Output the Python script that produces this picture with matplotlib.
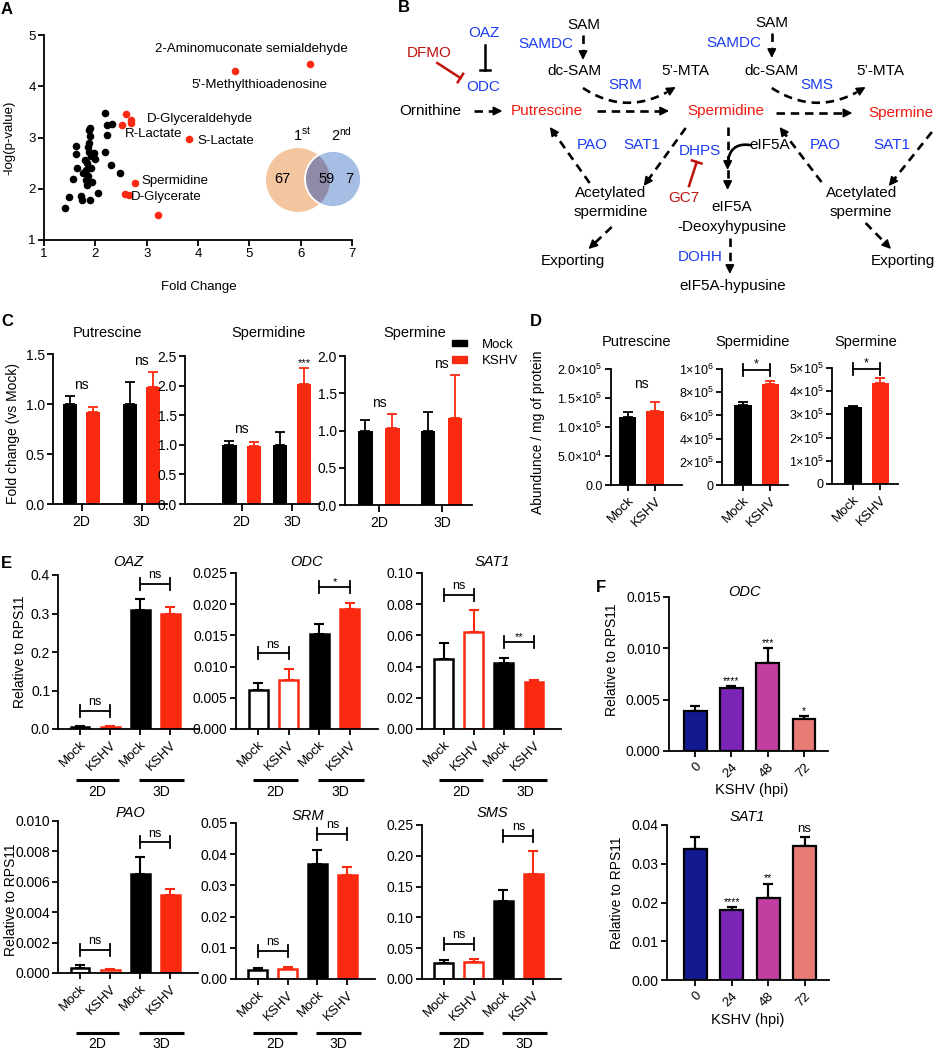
import numpy as np
import matplotlib
matplotlib.use('Agg')
import matplotlib.pyplot as plt
from matplotlib.patches import Circle, Patch

plt.rcParams['font.family'] = ['Liberation Sans', 'DejaVu Sans']
plt.rcParams['mathtext.fontset'] = 'custom'
plt.rcParams['mathtext.rm'] = 'Liberation Sans'
plt.rcParams['mathtext.it'] = 'Liberation Sans:italic'
plt.rcParams['mathtext.bf'] = 'Liberation Sans:bold'

# ------------------------------------------------------------------ data
# A : volcano-like scatter
a_black_fc = [1.40, 1.49, 1.56, 1.62, 1.62, 1.64, 1.73, 1.74, 1.81, 1.84, 1.86, 1.88,
              1.90, 1.86, 1.88, 1.89, 1.92, 1.84, 1.89, 1.97, 1.94, 1.79, 1.99, 1.82,
              2.06, 2.18, 2.23, 2.23, 2.18, 2.32, 2.31, 2.49, 1.76, 1.92, 1.88]
a_black_logp = [1.62, 1.83, 2.19, 2.84, 2.68, 2.40, 1.85, 1.79, 2.37, 2.50, 2.82, 3.15,
                3.18, 2.24, 2.72, 3.02, 2.63, 2.07, 1.78, 2.69, 2.14, 2.56, 2.59, 2.17,
                1.92, 3.48, 3.24, 3.05, 2.72, 3.26, 2.47, 2.31, 2.30, 2.40, 2.89]
a_red_fc = [6.18, 4.73, 2.60, 2.69, 2.70, 2.52, 3.82, 2.77, 2.58, 2.66, 3.22]
a_red_logp = [4.43, 4.30, 3.46, 3.34, 3.29, 3.24, 2.98, 2.12, 1.89, 1.87, 1.48]
a_label_text = ['2-Aminomuconate semialdehyde', "5'-Methylthioadenosine", 'D-Glyceraldehyde',
                'R-Lactate', 'S-Lactate', 'Spermidine', 'D-Glycerate']
a_label_xy = [(5.04, 4.72), (5.19, 4.02), (4.03, 3.36), (3.14, 3.06), (4.55, 2.94),
              (3.56, 2.15), (3.38, 1.83)]
venn_counts = [67, 59, 7]
venn_sets = ['1', '2']
venn_sup = ['st', 'nd']

# C : fold change
c_titles = ['Putrescine', 'Spermidine', 'Spermine']
c_groups = ['2D', '3D']
c_mock = [[1.00, 1.00], [1.00, 1.00], [1.00, 1.00]]
c_mock_err = [[0.08, 0.22], [0.07, 0.21], [0.14, 0.25]]
c_kshv = [[0.92, 1.17], [0.98, 2.03], [1.04, 1.17]]
c_kshv_err = [[0.05, 0.15], [0.06, 0.27], [0.18, 0.57]]
c_sig = [['ns', 'ns'], ['ns', '***'], ['ns', 'ns']]
c_ymax = [1.5, 2.5, 2.0]

# D : abundance
d_titles = ['Putrescine', 'Spermidine', 'Spermine']
d_conditions = ['Mock', 'KSHV']
d_vals = [[1.17e5, 1.28e5], [6.92e5, 8.73e5], [3.30e5, 4.37e5]]
d_err = [[0.086e5, 0.15e5], [0.20e5, 0.23e5], [0.06e5, 0.20e5]]
d_sig = ['ns', '*', '*']
d_ticks = [[0, 5e4, 1e5, 1.5e5, 2e5], [0, 2e5, 4e5, 6e5, 8e5, 1e6], [0, 1e5, 2e5, 3e5, 4e5, 5e5]]
d_ticklabels = [['0.0', '5.0×10$^{4}$', '1.0×10$^{5}$', '1.5×10$^{5}$', '2.0×10$^{5}$'],
                ['0', '2×10$^{5}$', '4×10$^{5}$', '6×10$^{5}$', '8×10$^{5}$', '1×10$^{6}$'],
                ['0', '1×10$^{5}$', '2×10$^{5}$', '3×10$^{5}$', '4×10$^{5}$', '5×10$^{5}$']]

# E : qPCR, 2D / 3D
e_genes = ['OAZ', 'ODC', 'SAT1', 'PAO', 'SRM', 'SMS']
e_conditions = ['Mock', 'KSHV', 'Mock', 'KSHV']
e_cultures = ['2D', '3D']
e_vals = [[0.004, 0.005, 0.308, 0.300],
          [0.0062, 0.0078, 0.0152, 0.0193],
          [0.045, 0.062, 0.042, 0.030],
          [0.00035, 0.0002, 0.0065, 0.0051],
          [0.0030, 0.0033, 0.0367, 0.0334],
          [0.026, 0.027, 0.126, 0.170]]
e_err = [[0.003, 0.003, 0.029, 0.018],
         [0.0011, 0.0018, 0.0017, 0.0009],
         [0.010, 0.014, 0.0035, 0.0015],
         [0.00017, 0.00005, 0.0011, 0.0004],
         [0.0006, 0.0007, 0.0048, 0.0024],
         [0.005, 0.005, 0.018, 0.037]]
e_sig = [['ns', 'ns'], ['ns', '*'], ['ns', '**'], ['ns', 'ns'], ['ns', 'ns'], ['ns', 'ns']]
e_ymax = [0.4, 0.025, 0.10, 0.010, 0.05, 0.25]
e_ystep = [0.1, 0.005, 0.02, 0.002, 0.01, 0.05]
e_yfmt = ['%.1f', '%.3f', '%.2f', '%.3f', '%.2f', '%.2f']

# F : time course
f_times = ['0', '24', '48', '72']
f_genes = ['ODC', 'SAT1']
f_vals = [[0.00386, 0.0061, 0.00857, 0.00312], [0.0338, 0.0181, 0.0212, 0.0346]]
f_err = [[0.00052, 0.00026, 0.00149, 0.00032], [0.0030, 0.0007, 0.0037, 0.0024]]
f_sig = [['', '****', '***', '*'], ['', '****', '**', 'ns']]
f_ymax = [0.015, 0.04]
f_ystep = [0.005, 0.01]
f_yfmt = ['%.3f', '%.2f']

# ------------------------------------------------------------------ style
W, H = 937, 1050
RED = '#FA2A10'
BLUE_T = '#1B3CF2'
RED_T = '#F01A10'
DRED = '#C0100A'
F_COLORS = ['#13198F', '#7A25B5', '#C13FA0', '#E97B76']
LW = 1.3

fig = plt.figure(figsize=(W / 100, H / 100), dpi=100)
boxes = {}


def mk(box, fs=9.5):
    l, t, r, b = box
    ax = fig.add_axes([l / W, 1 - b / H, (r - l) / W, (b - t) / H])
    boxes[ax] = box
    for s in ('top', 'right'):
        ax.spines[s].set_visible(False)
    for s in ('left', 'bottom'):
        ax.spines[s].set_linewidth(LW)
    ax.tick_params(width=LW, length=4, pad=2, labelsize=fs)
    ax.patch.set_alpha(0)
    return ax


def axc(ax, px, py):
    l, t, r, b = boxes[ax]
    return (px - l) / (r - l), (b - py) / (b - t)


def ytext(ax, px, py, s, **kw):
    x, y = axc(ax, px, py)
    ax.text(x, y, s, transform=ax.transAxes, ha='center', va='center', clip_on=False, **kw)


def ylab(ax, s, px, py, fs=10):
    ax.set_ylabel(s, fontsize=fs)
    ax.yaxis.label.set_verticalalignment('center')
    ax.yaxis.set_label_coords(*axc(ax, px, py))


def xlab(ax, s, px, py, fs=10):
    ax.set_xlabel(s, fontsize=fs)
    ax.xaxis.label.set_verticalalignment('center')
    ax.xaxis.set_label_coords(*axc(ax, px, py))


def hdata(ax, npx):
    l, t, r, b = boxes[ax]
    y0, y1 = ax.get_ylim()
    return npx * (y1 - y0) / (b - t)


def upper_err(ax, x, y, e, color, lw=LW, cap=3.5):
    ax.errorbar(x, y, yerr=[np.zeros(len(e)), e], fmt='none', ecolor=color,
                elinewidth=lw, capsize=cap, capthick=lw, zorder=1, clip_on=False)


def bracket(ax, x0, x1, y, text, fs=9, dy=3):
    h = hdata(ax, 6)
    ax.plot([x0, x0], [y - h, y + h], color='k', lw=LW, clip_on=False)
    ax.plot([x1, x1], [y - h, y + h], color='k', lw=LW, clip_on=False)
    ax.plot([x0, x1], [y, y], color='k', lw=LW, clip_on=False)
    ax.annotate(text, (0.5 * (x0 + x1), y), xytext=(0, dy), textcoords='offset points',
                ha='center', va='bottom', fontsize=fs, annotation_clip=False)


# ------------------------------------------------------------------ overlay (diagram, letters)
ov = fig.add_axes([0, 0, 1, 1], zorder=10)
ov.set_xlim(0, W)
ov.set_ylim(H, 0)
ov.axis('off')
ov.patch.set_alpha(0)

for letter, (x, y) in zip('ABCDEF', [(7, 10), (404, 8), (7, 322), (536, 322), (6, 563), (601, 588)]):
    ov.text(x, y, letter, fontsize=12, fontweight='bold', ha='center', va='center')

# ------------------------------------------------------------------ A
axA = mk((44, 35, 352, 240), fs=9.5)
axA.scatter(a_black_fc, a_black_logp, s=30, color='k', lw=0, zorder=3, clip_on=False)
axA.scatter(a_red_fc, a_red_logp, s=30, color=RED, lw=0, zorder=3, clip_on=False)
axA.set_xlim(1, 7)
axA.set_ylim(1, 5)
axA.set_xticks(range(1, 8))
axA.set_yticks(range(1, 6))
for s, (x, y) in zip(a_label_text, a_label_xy):
    axA.text(x, y, s, ha='center', va='center', fontsize=9.5)
ylab(axA, '-log(p-value)', 9, 138, fs=9.5)
xlab(axA, 'Fold Change', 199, 287, fs=9.5)

# Venn
c1 = Circle((298, 180), 32, facecolor='#F4C6A0', edgecolor='none', zorder=2)
c2 = Circle((333, 179), 28, facecolor='#A6BDE4', edgecolor='none', zorder=3)
c3 = Circle((333, 179), 28, facecolor='#8E8AA8', edgecolor='none', zorder=4)
c4 = Circle((333, 179), 28, facecolor='none', edgecolor='white', lw=1.3, zorder=5)
for c in (c1, c2, c3, c4):
    ov.add_patch(c)
c3.set_clip_path(c1)
for n, x in zip(venn_counts, [282, 327, 349]):
    ov.text(x, 179, str(n), ha='center', va='center', fontsize=10.5, zorder=6)
for s, sup, x in zip(venn_sets, venn_sup, [302, 341]):
    ov.text(x, 135, s + r'$^{\mathrm{' + sup + '}}$', ha='center', va='center', fontsize=10.5)

# ------------------------------------------------------------------ B diagram
FB = 11


def bx(x):
    return 360 + (x - 360) * 1.104


b_texts = [('OAZ', 472, 33, BLUE_T), ('DFMO', 423, 53, DRED), ('ODC', 472, 87, BLUE_T),
           ('Ornithine', 424, 111, 'k'), ('Putrescine', 529, 111, RED_T),
           ('SAM', 563, 25, 'k'), ('SAMDC', 528, 44, BLUE_T), ('dc-SAM', 554, 71, 'k'),
           ('5’-MTA', 655, 71, 'k'), ('SRM', 600, 85, BLUE_T), ('Spermidine', 691, 111, RED_T),
           ('SAM', 733, 23, 'k'), ('SAMDC', 699, 43, BLUE_T), ('dc-SAM', 733, 71, 'k'),
           ('5’-MTA', 831, 71, 'k'), ('SMS', 774, 85, BLUE_T), ('Spermine', 850, 113, RED_T),
           ('PAO', 570, 145, BLUE_T), ('SAT1', 615, 145, BLUE_T), ('DHPS', 668, 151, BLUE_T),
           ('eIF5A', 731, 145, 'k'), ('PAO', 781, 145, BLUE_T), ('SAT1', 842, 145, BLUE_T),
           ('Acetylated', 587, 193, 'k'), ('spermidine', 587, 212, 'k'), ('GC7', 653, 198, DRED),
           ('eIF5A', 697, 207, 'k'), ('-Deoxyhypusine', 697, 227, 'k'), ('DOHH', 668, 257, BLUE_T),
           ('Exporting', 553, 261, 'k'), ('Exporting', 852, 261, 'k'),
           ('Acetylated', 814, 193, 'k'), ('spermine', 814, 212, 'k'),
           ('eIF5A-hypusine', 698, 286, 'k')]
for s, x, y, col in b_texts:
    ov.text(bx(x), y, s, ha='center', va='center', fontsize=FB, color=col)

DASH = (0, (3.2, 2.2))


def head(x0, y0, x1, y1, color='k'):
    ov.annotate('', xy=(x1, y1), xytext=(x0, y0),
                arrowprops=dict(arrowstyle='-|>', color=color, lw=1.2, mutation_scale=13,
                                shrinkA=0, shrinkB=0))


def darrow(x0, y0, x1, y1, dashed=True):
    x0, x1 = bx(x0), bx(x1)
    d = np.hypot(x1 - x0, y1 - y0)
    ux, uy = (x1 - x0) / d, (y1 - y0) / d
    xm, ym = x1 - 7 * ux, y1 - 7 * uy
    ov.plot([x0, xm], [y0, ym], color='k', lw=1.9, ls=DASH if dashed else '-',
            solid_capstyle='butt', dash_capstyle='butt')
    head(xm, ym, x1, y1)


def carrow(p0, p1, p2, dashed=True):
    t = np.linspace(0, 0.9, 40)
    p0, p1, p2 = [np.array([bx(p[0]), p[1]]) for p in (p0, p1, p2)]
    pts = ((1 - t)[:, None] ** 2) * p0 + (2 * t * (1 - t))[:, None] * p1 + (t[:, None] ** 2) * p2
    ov.plot(pts[:, 0], pts[:, 1], color='k', lw=1.9, ls=DASH if dashed else '-')
    head(pts[-1, 0], pts[-1, 1], p2[0], p2[1])


def inhibit(x0, y0, x1, y1, color):
    x0, x1 = bx(x0), bx(x1)
    ov.plot([x0, x1], [y0, y1], color=color, lw=1.8)
    d = np.hypot(x1 - x0, y1 - y0)
    nx, ny = -(y1 - y0) / d, (x1 - x0) / d
    ov.plot([x1 - 5 * nx, x1 + 5 * nx], [y1 - 5 * ny, y1 + 5 * ny], color=color, lw=1.8)


darrow(463, 111, 489, 111)
darrow(562, 35, 562, 60)
carrow((562, 88), (603, 118), (646, 87))
darrow(575, 111, 640, 111)
darrow(733, 33, 733, 58)
carrow((733, 88), (775, 118), (818, 87))
darrow(737, 113, 806, 113)
darrow(568, 183, 532, 127)
darrow(655, 128, 617, 186)
darrow(588, 227, 567, 249)
darrow(693, 127, 693, 190)
carrow((713, 145), (692, 142), (693, 170), dashed=False)
darrow(695, 238, 695, 274)
darrow(778, 182, 740, 127)
darrow(878, 132, 839, 186)
darrow(818, 223, 841, 249)
inhibit(473, 45, 473, 70, 'k')
inhibit(430, 63, 451, 78, DRED)
inhibit(658, 186, 665, 162, DRED)

# ------------------------------------------------------------------ C
c_boxes = [(53, 354, 167, 504), (185, 356, 320, 504), (345, 356, 472, 505)]
c_xlim = [(-0.478, 1.422), (-1.12, 1.55), (-0.54, 1.48)]
c_off = [0.19, 0.24, 0.215]
c_w = [0.235, 0.28, 0.225]
c_title_x = [108, 269, 415]
xg = np.arange(len(c_groups))
for i in range(3):
    ax = mk(c_boxes[i], fs=10)
    ax.set_xlim(*c_xlim[i])
    ax.set_ylim(0, c_ymax[i])
    ax.set_yticks(np.arange(0, c_ymax[i] + 1e-9, 0.5))
    ax.set_yticklabels(['%.1f' % v for v in np.arange(0, c_ymax[i] + 1e-9, 0.5)])
    ax.set_xticks(xg)
    ax.set_xticklabels(c_groups)
    ax.tick_params(axis='x', length=5, pad=3)
    xm = xg - c_off[i]
    xk = xg + c_off[i]
    ax.bar(xm, c_mock[i], width=c_w[i], color='k', zorder=2)
    ax.bar(xk, c_kshv[i], width=c_w[i], color=RED, zorder=2)
    upper_err(ax, xm, c_mock[i], c_mock_err[i], 'k')
    upper_err(ax, xk, c_kshv[i], c_kshv_err[i], RED)
    for g in range(2):
        top = max(c_mock[i][g] + c_mock_err[i][g], c_kshv[i][g] + c_kshv_err[i][g])
        s = c_sig[i][g]
        if s == 'ns':
            ax.annotate(s, (xg[g], top), xytext=(0, 3), textcoords='offset points',
                        ha='center', va='bottom', fontsize=10, annotation_clip=False)
        else:
            ax.annotate(s, (xk[g], c_kshv[i][g] + c_kshv_err[i][g]), xytext=(0, 0),
                        textcoords='offset points', ha='center', va='bottom', fontsize=8,
                        annotation_clip=False)
    ytext(ax, c_title_x[i], 333, c_titles[i], fontsize=10.5)
    if i == 0:
        ylab(ax, 'Fold change (vs Mock)', 13, 433)
    if i == 2:
        ax.legend(handles=[Patch(color='k'), Patch(color=RED)], labels=['Mock', 'KSHV'],
                  loc='center left', bbox_to_anchor=(452 / W, 1 - 353 / H),
                  bbox_transform=fig.transFigure, frameon=False, handlelength=1.1,
                  handleheight=0.4, handletextpad=1.2, labelspacing=0.35, fontsize=9.5,
                  borderaxespad=0, borderpad=0)

# ------------------------------------------------------------------ D
d_boxes = [(611, 369, 682, 485), (722, 369, 788, 485), (832, 368, 898, 484)]
d_xlim = [(-0.6, 1.98), (-0.76, 1.64), (-0.76, 1.64)]
d_title_x = [637, 753, 866]
xd = np.arange(len(d_conditions))
for i in range(3):
    ax = mk(d_boxes[i], fs=9)
    ax.set_xlim(*d_xlim[i])
    ax.set_ylim(0, d_ticks[i][-1])
    ax.set_yticks(d_ticks[i])
    ax.set_yticklabels(d_ticklabels[i])
    ax.set_xticks(xd)
    ax.set_xticklabels(d_conditions, rotation=45, ha='right', rotation_mode='anchor', fontsize=9.5)
    ax.tick_params(axis='x', length=4, pad=3)
    ax.bar(xd, d_vals[i], width=0.64, color=['k', RED], zorder=2)
    upper_err(ax, xd[:1], d_vals[i][:1], d_err[i][:1], 'k')
    upper_err(ax, xd[1:], d_vals[i][1:], d_err[i][1:], RED)
    top = max(v + e for v, e in zip(d_vals[i], d_err[i]))
    if d_sig[i] == 'ns':
        ax.annotate('ns', (0.5, top), xytext=(0, 8), textcoords='offset points',
                    ha='center', va='bottom', fontsize=10, annotation_clip=False)
    else:
        bracket(ax, xd[0], xd[1], d_ticks[i][-1] * 0.99, d_sig[i], fs=9, dy=0)
    ytext(ax, d_title_x[i], 342, d_titles[i], fontsize=10.5)
    if i == 0:
        ylab(ax, 'Abundunce / mg of protein', 538, 432)

# ------------------------------------------------------------------ E
e_boxes = [(58.5, 575, 198, 729), (236, 573, 378, 729), (422, 573, 561.5, 729),
           (58.5, 821, 198, 973), (236, 823, 375, 979), (422, 825, 561, 979)]
e_title_xy = [(128.5, 562), (306.5, 562), (492, 562), (130.5, 813), (307.6, 816), (492, 813)]
e_ylab_xy = {0: (20, 652), 3: (11, 900)}
e_line_y = [780, 780, 780, 1033, 1033, 1033]
e_lab_y = [792, 792, 792, 1044, 1044, 1044]
xe = np.arange(len(e_conditions))
ecol = ['k', RED, 'k', RED]
for i in range(6):
    ax = mk(e_boxes[i], fs=10)
    ax.set_xlim(-0.72, 3.92)
    ax.set_ylim(0, e_ymax[i])
    yt = np.arange(0, e_ymax[i] + 1e-12, e_ystep[i])
    ax.set_yticks(yt)
    ax.set_yticklabels([e_yfmt[i] % v for v in yt])
    ax.set_xticks(xe)
    ax.set_xticklabels(e_conditions, rotation=45, ha='right', rotation_mode='anchor', fontsize=9.5)
    ax.tick_params(axis='x', length=4, pad=3)
    v, e = e_vals[i], e_err[i]
    for j in range(4):
        filled = j >= 2
        ax.bar(xe[j], v[j], width=0.62, facecolor=ecol[j] if filled else 'white',
               edgecolor=ecol[j], lw=1.8, zorder=2)
        upper_err(ax, xe[j:j + 1], v[j:j + 1], e[j:j + 1], ecol[j], lw=1.5)
    for g in range(2):
        top = max(v[2 * g] + e[2 * g], v[2 * g + 1] + e[2 * g + 1])
        bracket(ax, xe[2 * g], xe[2 * g + 1], top + 0.1 * e_ymax[i], e_sig[i][g],
                fs=9 if e_sig[i][g] == 'ns' else 8, dy=2 if e_sig[i][g] == 'ns' else 0)
    ytext(ax, e_title_xy[i][0], e_title_xy[i][1], e_genes[i], fontsize=10.5, style='italic')
    ly = axc(ax, 0, e_line_y[i])[1]
    tly = axc(ax, 0, e_lab_y[i])[1]
    for g, (x0, x1) in enumerate([(-0.15, 1.3), (1.95, 3.45)]):
        ax.plot([x0, x1], [ly, ly], color='k', lw=2.2, transform=ax.get_xaxis_transform(),
                clip_on=False, solid_capstyle='butt')
        ax.text(0.5 * (x0 + x1), tly, e_cultures[g], transform=ax.get_xaxis_transform(),
                ha='center', va='center', fontsize=10)
    if i in e_ylab_xy:
        ylab(ax, 'Relative to RPS11', *e_ylab_xy[i])

# ------------------------------------------------------------------ F
f_boxes = [(669, 597, 828, 751), (667, 825, 829, 980)]
f_xlim = [(-0.72, 3.66), (-0.77, 3.67)]
f_title_xy = [(745, 592), (747, 817)]
f_ylab_xy = [(612, 660), (617, 893)]
f_xlab_xy = [(752, 790), (748, 1020)]
xf = np.arange(len(f_times))
for i in range(2):
    ax = mk(f_boxes[i], fs=10)
    ax.set_xlim(*f_xlim[i])
    ax.set_ylim(0, f_ymax[i])
    yt = np.arange(0, f_ymax[i] + 1e-12, f_ystep[i])
    ax.set_yticks(yt)
    ax.set_yticklabels([f_yfmt[i] % v for v in yt])
    ax.set_xticks(xf)
    ax.set_xticklabels(f_times, rotation=45, ha='right', rotation_mode='anchor', fontsize=9.5)
    ax.tick_params(axis='x', length=4, pad=3)
    ax.bar(xf, f_vals[i], width=0.63, color=F_COLORS, edgecolor='k', lw=1.6, zorder=2)
    upper_err(ax, xf, f_vals[i], f_err[i], 'k', lw=1.6)
    for j in range(4):
        s = f_sig[i][j]
        if s:
            ax.annotate(s, (xf[j], f_vals[i][j] + f_err[i][j]), xytext=(0, 1 if s == 'ns' else 0),
                        textcoords='offset points', ha='center', va='bottom',
                        fontsize=9.5 if s == 'ns' else 7.5, annotation_clip=False)
    ytext(ax, f_title_xy[i][0], f_title_xy[i][1], f_genes[i], fontsize=10.5, style='italic')
    ylab(ax, 'Relative to RPS11', *f_ylab_xy[i])
    xlab(ax, 'KSHV (hpi)', *f_xlab_xy[i], fs=10.5)

fig.savefig('out.png', dpi=100)
